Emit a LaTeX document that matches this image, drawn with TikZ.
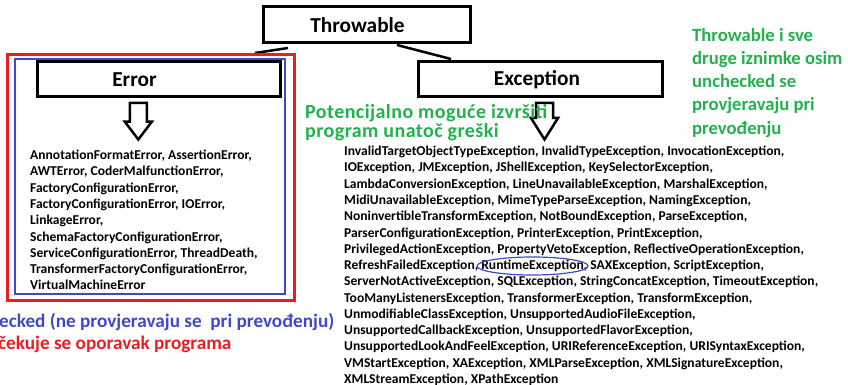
\documentclass[tikz,border=0pt]{standalone}
\usepackage{fontspec}
\setmainfont{Carlito}
\usetikzlibrary{calc,shapes.geometric}
\definecolor{paintred}{RGB}{237,28,36}
\definecolor{paintblue}{RGB}{63,72,204}
\definecolor{paintgreen}{RGB}{34,177,76}

\begin{document}
\begin{tikzpicture}[x=1pt, y=-1pt, line join=miter,
  classbox/.style={draw, line width=3pt, minimum height=35pt, inner sep=0pt},
  titlefont/.style={font=\fontsize{21.3}{24}\selectfont\bfseries},
  listtext/.style={anchor=north west, align=left, inner sep=0pt,
    font=\fontsize{13.55}{16.26}\selectfont\bfseries},
  note/.style={anchor=north west, align=left, inner sep=0pt, text=paintgreen}]

\useasboundingbox (0,0) rectangle (848,385);

%==================================================
% Class boxes
%==================================================
\node[classbox, minimum width=207pt, minimum height=36pt,
  label={[titlefont, xshift=-9pt]center:Throwable}] (throwable) at (366.5,25) {};
\node[classbox, minimum width=243pt,
  label={[titlefont, xshift=-24pt]center:Error}] (error) at (158.5,79.5) {};
\node[classbox, minimum width=244pt,
  label={[titlefont, xshift=-3pt]center:Exception}] (exception) at (540,79.5) {};

% Short strokes below Throwable
\coordinate (thrL) at (288,48);
\coordinate (thrR) at (397,45);
\coordinate (errT) at (255,53);
\coordinate (excT) at (451,59);
\draw[line width=2.5pt] (thrL) -- (errT);
\draw[line width=2.5pt] (thrR) -- (excT);

%==================================================
% Unchecked frames round Error
%==================================================
\draw[paintred, line width=3pt] (7,55) rectangle (294,300);
\draw[paintblue, line width=1.5pt] (15,59) rectangle (285,294);

% Hollow down arrows
\foreach \cx/\neck in {138.3/121.7, 544.5/118}{
  \draw[line width=2.5pt]
    ({\cx-8.5},103) -- ({\cx+8.5},103) -- ({\cx+8.5},\neck)
    -- ({\cx+13.5},\neck) -- (\cx,139.5) -- ({\cx-13.5},\neck)
    -- ({\cx-8.5},\neck) -- cycle;
}

%==================================================
% Lists of subclasses
%==================================================
\node[listtext] (errlist) at (30,150) {%
AnnotationFormatError, AssertionError,\\
AWTError, CoderMalfunctionError,\\
FactoryConfigurationError,\\
FactoryConfigurationError, IOError,\\
LinkageError,\\
SchemaFactoryConfigurationError,\\
ServiceConfigurationError, ThreadDeath,\\
TransformerFactoryConfigurationError,\\
VirtualMachineError};

\node[listtext] (exclist) at (344,146) {%
InvalidTargetObjectTypeException, InvalidTypeException, InvocationException,\\
IOException, JMException, JShellException, KeySelectorException,\\
LambdaConversionException, LineUnavailableException, MarshalException,\\
MidiUnavailableException, MimeTypeParseException, NamingException,\\
NoninvertibleTransformException, NotBoundException, ParseException,\\
ParserConfigurationException, PrinterException, PrintException,\\
PrivilegedActionException, PropertyVetoException, ReflectiveOperationException,\\
RefreshFailedException, RuntimeException, SAXException, ScriptException,\\
ServerNotActiveException, SQLException, StringConcatException, TimeoutException,\\
TooManyListenersException, TransformerException, TransformException,\\
UnmodifiableClassException, UnsupportedAudioFileException,\\
UnsupportedCallbackException, UnsupportedFlavorException,\\
UnsupportedLookAndFeelException, URIReferenceException, URISyntaxException,\\
VMStartException, XAException, XMLParseException, XMLSignatureException,\\
XMLStreamException, XPathException};

% RuntimeException marked
\node[draw=paintblue, line width=1.2pt, ellipse, minimum width=111pt,
  minimum height=18pt, inner sep=0pt] (runtime) at (532.5,266) {};

%==================================================
% Notes
%==================================================
\node[note, font=\fontsize{20}{20}\selectfont\bfseries\addfontfeature{LetterSpace=2.2}]
  (checkednote) at (305,104.5) {%
Potencijalno moguće izvršiti\\[-1.5pt]
program unatoč greški};

\node[note, font=\fontsize{18.67}{23.2}\selectfont\bfseries] (compilenote) at (692,28) {%
Throwable i sve\\
druge iznimke osim\\
unchecked se\\
provjeravaju pri\\
prevođenju};

\node[anchor=base west, inner sep=0pt, text=paintblue,
  font=\fontsize{19.2}{23}\selectfont\bfseries] (uncheckednote) at (-1,327)
  {ecked (ne provjeravaju se~~pri prevođenju)};
\node[anchor=base west, inner sep=0pt, text=paintred,
  font=\fontsize{19.2}{23}\selectfont\bfseries] (recoverynote) at (-2,349.5)
  {čekuje se oporavak programa};

\end{tikzpicture}
\end{document}
